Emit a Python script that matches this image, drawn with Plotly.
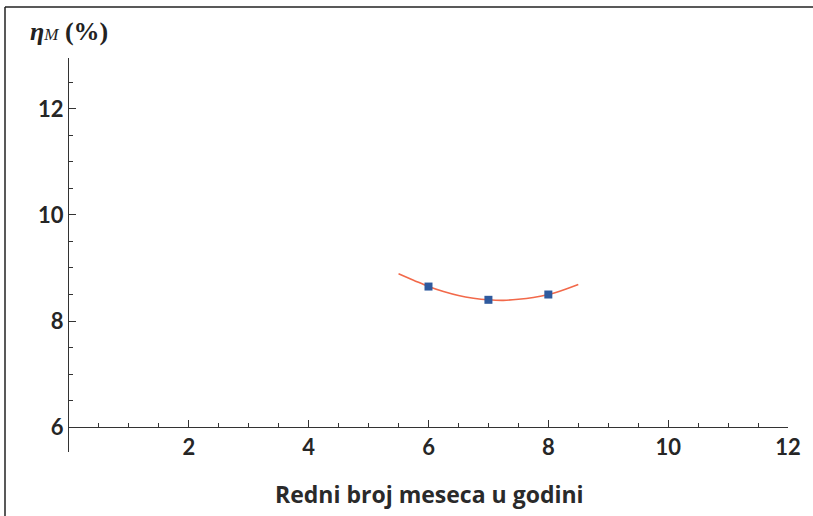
import plotly.graph_objects as go

# Measured data points (month number, efficiency %)
months = [6, 7, 8]
eta_values = [8.65, 8.40, 8.50]

# Fitted curve
fit_x = [5.5, 5.75, 6.0, 6.25, 6.5, 6.75, 7.0, 7.25, 7.5, 7.75, 8.0, 8.25, 8.5]
fit_y = [8.89, 8.77, 8.65, 8.555, 8.48, 8.43, 8.40, 8.39, 8.41, 8.445, 8.50, 8.585, 8.69]

x_ticks = [2, 4, 6, 8, 10, 12]
y_ticks = [6, 8, 10, 12]

x_range = [0, 12]
y_range = [5.53, 12.96]

fig = go.Figure()
fig.add_trace(go.Scatter(x=fit_x, y=fit_y, mode="lines", line=dict(color="#F2694A", width=1.6, shape="spline"),
                         hoverinfo="skip", showlegend=False))
fig.add_trace(go.Scatter(x=months, y=eta_values, mode="markers",
                         marker=dict(color="#2F5A9E", size=8, symbol="square"), showlegend=False))

axis_color = "#333333"
tick_font = dict(family="Lato", size=22, color="#262626", weight="bold")

W, H = 813, 516
L, T = 69, 58
R = W - 788
B = H - 452
pw, ph = W - L - R, H - T - B
x0_pos = (6 - y_range[0]) / (y_range[1] - y_range[0])


def px(x):
    return (x - L) / pw


def py(y):
    return (H - B - y) / ph


fig.update_layout(
    width=W, height=H,
    margin=dict(l=L, r=R, t=T, b=B),
    paper_bgcolor="white", plot_bgcolor="white",
    xaxis=dict(range=x_range, tickvals=x_ticks, showgrid=False, zeroline=False,
               showline=True, linecolor=axis_color, linewidth=1.3,
               ticks="inside", ticklen=7, tickwidth=1.3, tickcolor=axis_color,
               minor=dict(dtick=0.5, tick0=0, ticks="inside", ticklen=3.5, tickcolor=axis_color, tickwidth=1),
               anchor="free", position=x0_pos, tickfont=tick_font),
    yaxis=dict(range=y_range, tickvals=y_ticks, showgrid=False, zeroline=False,
               showline=True, linecolor=axis_color, linewidth=1.3,
               ticks="inside", ticklen=7, tickwidth=1.3, tickcolor=axis_color,
               minor=dict(dtick=0.5, tick0=0, ticks="inside", ticklen=3.5, tickcolor=axis_color, tickwidth=1),
               tickfont=tick_font),
)

# x-axis title
fig.add_annotation(text="<b>Redni broj meseca u godini</b>", xref="paper", yref="paper",
                   x=px(429), y=py(494), xanchor="center", yanchor="middle",
                   showarrow=False, font=dict(family="Open Sans", size=23, color="#2a2a2a"))
# y-axis title
fig.add_annotation(text="<b><i>η</i></b><i><span style='font-size:17px'>M</span></i><b> (%)</b>",
                   xref="paper", yref="paper",
                   x=px(28), y=py(32), xanchor="left", yanchor="middle",
                   showarrow=False, font=dict(family="Liberation Serif", size=26, color="#222222"))

# image frame lines (top and left)
fx = px(5)
fy = py(7)
fig.add_shape(type="line", xref="paper", yref="paper", x0=fx, x1=px(813), y0=fy, y1=fy,
              line=dict(color="#222222", width=1.5))
fig.add_shape(type="line", xref="paper", yref="paper", x0=fx, x1=fx, y0=fy, y1=py(516),
              line=dict(color="#222222", width=1.5))

fig.write_html("out.html", config={"displayModeBar": False},
               post_script="document.body.style.margin='0';")
